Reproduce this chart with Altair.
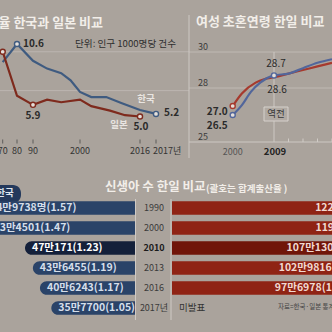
import altair as alt
import pandas as pd

FONT = "Noto Sans CJK KR"
BG = "#aaa39c"
LIGHT = "#f2eee9"
DARK = "#2b2b2b"

# ---------------- Panel A: 혼인율 (per 1000) ----------------
kr_mar_years = [1970, 1980, 1990, 1993, 1996, 1998, 2000, 2003, 2007, 2011, 2016, 2017]
kr_mar_rate = [9.2, 10.6, 9.3, 8.7, 8.35, 7.8, 6.9, 6.5, 6.5, 6.05, 5.5, 5.2]
jp_mar_years = [1970, 1980, 1990, 1993, 1996, 2000, 2003, 2008, 2012, 2016]
jp_mar_rate = [10.0, 6.6, 5.9, 6.3, 6.1, 6.3, 5.8, 5.45, 5.1, 5.0]
a_tick_years = [1970, 1980, 1990, 2000, 2016]
a_tick_labels = ["70", "80", "90", "2000", "2016"]
a_grid = [10.0, 7.0]

# ---------------- Panel B: 여성 초혼연령 ----------------
kr_age_years = [2000, 2002, 2004, 2006, 2009, 2010, 2011, 2012, 2013]
kr_age = [26.5, 27.05, 27.8, 28.3, 28.7, 28.8, 29.1, 29.4, 29.6]
jp_age_years = [2000, 2002, 2005, 2007, 2009, 2010, 2011, 2012, 2013]
jp_age = [27.0, 27.7, 28.3, 28.5, 28.6, 28.8, 29.0, 29.2, 29.4]
b_y_ticks = [30, 28, 25]
b_minor_ticks = [2010, 2011, 2012, 2013]

# ---------------- Panel C: 신생아 수 ----------------
c_years = ["1990", "2000", "2010", "2013", "2016", "2017"]
kr_births = [649738, 634501, 470171, 436455, 406243, 357700]
kr_tfr = ["1.57", "1.47", "1.23", "1.19", "1.17", "1.05"]
jp_years = ["1990", "2000", "2010", "2013", "2016"]
jp_births = [1221585, 1190547, 1071304, 1029816, 976978]
jp_tfr = ["1.54", "1.36", "1.39", "1.43", "1.44"]


def man(n, suffix=""):
    return f"{n // 10000}만{n % 10000}{suffix}"


dfA_kr = pd.DataFrame({"year": kr_mar_years, "rate": kr_mar_rate})
dfA_jp = pd.DataFrame({"year": jp_mar_years, "rate": jp_mar_rate})
dfB_kr = pd.DataFrame({"year": kr_age_years, "age": kr_age})
dfB_jp = pd.DataFrame({"year": jp_age_years, "age": jp_age})
dfC_kr = pd.DataFrame({
    "year": c_years, "births": kr_births,
    "label": [man(b, "명" if i == 0 else "") + f"({t})" for i, (b, t) in enumerate(zip(kr_births, kr_tfr))],
})
dfC_jp = pd.DataFrame({
    "year": jp_years, "births": jp_births,
    "label": [man(b) + f"({t})" for b, t in zip(jp_births, jp_tfr)],
})

# scales (pixel ranges place each panel inside the single 332x332 canvas)
xa = alt.Scale(type="linear", domain=[1970, 1980, 1990, 2000, 2016, 2017],
               range=[2.7, 17, 33, 80, 140, 156], nice=False, zero=False)
ya = alt.Scale(type="linear", domain=[5.0, 10.6], range=[116.5, 44], nice=False, zero=False)
xb = alt.Scale(type="linear", domain=[2000, 2009, 2013], range=[232.7, 274, 332], nice=False, zero=False)
yb = alt.Scale(type="linear", domain=[25, 30], range=[142, 52], nice=False, zero=False)
yc = alt.Scale(type="band", domain=c_years, range=[198, 318], paddingInner=0.32, paddingOuter=0.16)
xc_kr = alt.Scale(type="linear", domain=[0, 700000], range=[135, 135 - 163.8], nice=False, zero=False)
xc_jp = alt.Scale(type="linear", domain=[0, 1300000], range=[172, 172 + 1300 * 0.19], nice=False, zero=False)

ONE = alt.Data(values=[{"a": 1}])


def txt(text, x, y, size, color, weight="normal", align="left"):
    return alt.Chart(ONE).mark_text(
        text=text, font=FONT, fontSize=size, color=color, fontWeight=weight,
        align=align, baseline="middle",
    ).encode(x=alt.value(x), y=alt.value(y))


layers = []

# ---- gridlines / frame lines
layers.append(alt.Chart(pd.DataFrame({"v": a_grid})).mark_rule(color="#bcb6b0", strokeWidth=1).encode(
    y=alt.Y("v:Q", scale=ya, axis=None), x=alt.value(0), x2=alt.value(189)))
layers.append(alt.Chart(pd.DataFrame({"v": [28, 30]})).mark_rule(color="#bfb9b3", strokeWidth=1).encode(
    y=alt.Y("v:Q", scale=yb, axis=None), x=alt.value(189), x2=alt.value(332)))
layers.append(alt.Chart(ONE).mark_rule(color="#cdc8c3", strokeWidth=1).encode(
    x=alt.value(189), y=alt.value(15), y2=alt.value(158)))
layers.append(alt.Chart(pd.DataFrame({"v": [25]})).mark_rule(color="#cdc8c3", strokeWidth=1).encode(
    y=alt.Y("v:Q", scale=yb, axis=None), x=alt.value(189), x2=alt.value(332)))
layers.append(alt.Chart(pd.DataFrame({"y": [2009], "lo": [25], "hi": [30]})).mark_rule(color="#cdc8c3", strokeWidth=1).encode(
    x=alt.X("y:Q", scale=xb, axis=None), y=alt.Y("lo:Q", scale=yb, axis=None), y2="hi:Q"))

# ---- Panel A axis ticks & labels
layers.append(alt.Chart(pd.DataFrame({"y": a_tick_years + [2017]})).mark_rule(color="#4a4a4a", strokeWidth=0.8).encode(
    x=alt.X("y:Q", scale=xa, axis=None), y=alt.value(139.5), y2=alt.value(143.5)))
layers.append(alt.Chart(pd.DataFrame({"y": a_tick_years, "t": a_tick_labels})).mark_text(
    font=FONT, fontSize=9, color="#333333", baseline="middle").encode(
    x=alt.X("y:Q", scale=xa, axis=None), y=alt.value(151), text="t:N"))
layers.append(alt.Chart(pd.DataFrame({"y": [2017], "t": ["2017년"]})).mark_text(
    font=FONT, fontSize=9, color="#333333", baseline="middle", align="left", dx=-3).encode(
    x=alt.X("y:Q", scale=xa, axis=None), y=alt.value(151), text="t:N"))

# ---- Panel A lines
KR_A, JP_A = "#3f5b80", "#7e2a1d"
layers.append(alt.Chart(dfA_kr).mark_line(color=KR_A, strokeWidth=2.2).encode(
    x=alt.X("year:Q", scale=xa, axis=None), y=alt.Y("rate:Q", scale=ya, axis=None)))
layers.append(alt.Chart(dfA_jp).mark_line(color=JP_A, strokeWidth=2.2).encode(
    x=alt.X("year:Q", scale=xa, axis=None), y=alt.Y("rate:Q", scale=ya, axis=None)))
mkA_kr = dfA_kr[dfA_kr.year.isin([1980, 2017])]
mkA_jp = dfA_jp[dfA_jp.year.isin([1970, 1990, 2016])]
layers.append(alt.Chart(mkA_kr).mark_point(shape="circle", size=26, filled=False, fill="#e4dfda", fillOpacity=1,
                                           stroke=KR_A, strokeWidth=1.4).encode(
    x=alt.X("year:Q", scale=xa, axis=None), y=alt.Y("rate:Q", scale=ya, axis=None)))
layers.append(alt.Chart(mkA_jp).mark_point(shape="circle", size=26, filled=False, fill="#e4dfda", fillOpacity=1,
                                           stroke=JP_A, strokeWidth=1.4).encode(
    x=alt.X("year:Q", scale=xa, axis=None), y=alt.Y("rate:Q", scale=ya, axis=None)))


def ptlabel(df, year, field, xs, ys, text, dx, dy, size, color, weight="bold", align="center"):
    d = df[df.year == year].assign(t=text)
    return alt.Chart(d).mark_text(font=FONT, fontSize=size, color=color, fontWeight=weight,
                                  align=align, baseline="middle", dx=dx, dy=dy).encode(
        x=alt.X("year:Q", scale=xs, axis=None), y=alt.Y(f"{field}:Q", scale=ys, axis=None), text="t:N")


layers.append(ptlabel(dfA_kr, 1980, "rate", xa, ya, "10.6", 6, 0, 10, DARK, align="left"))
layers.append(ptlabel(dfA_jp, 1990, "rate", xa, ya, "5.9", 0, 11, 10, DARK))
layers.append(ptlabel(dfA_jp, 2016, "rate", xa, ya, "5.0", 1, 10.5, 10, DARK))
layers.append(ptlabel(dfA_kr, 2017, "rate", xa, ya, "5.2", 8, -1, 10, DARK, align="left"))
layers.append(ptlabel(dfA_kr, 2017, "rate", xa, ya, "한국", -10, -15, 9.5, "#e9e5e1"))
layers.append(ptlabel(dfA_jp, 2016, "rate", xa, ya, "일본", -21, 8.5, 9.5, "#e9e5e1"))

# ---- Panel B lines
KR_B, JP_B = "#52669b", "#a63a2e"
layers.append(alt.Chart(dfB_jp).mark_line(color=JP_B, strokeWidth=2.2, interpolate="monotone").encode(
    x=alt.X("year:Q", scale=xb, axis=None), y=alt.Y("age:Q", scale=yb, axis=None)))
layers.append(alt.Chart(dfB_kr).mark_line(color=KR_B, strokeWidth=2.2, interpolate="monotone").encode(
    x=alt.X("year:Q", scale=xb, axis=None), y=alt.Y("age:Q", scale=yb, axis=None)))
layers.append(alt.Chart(dfB_jp[dfB_jp.year == 2000]).mark_point(shape="circle", size=26, filled=False, fill="#e4dfda",
                                                               fillOpacity=1, stroke=JP_B, strokeWidth=1.4).encode(
    x=alt.X("year:Q", scale=xb, axis=None), y=alt.Y("age:Q", scale=yb, axis=None)))
layers.append(alt.Chart(dfB_kr[dfB_kr.year.isin([2000, 2009])]).mark_point(shape="circle", size=26, filled=False,
                                                                          fill="#e4dfda", fillOpacity=1,
                                                                          stroke=KR_B, strokeWidth=1.4).encode(
    x=alt.X("year:Q", scale=xb, axis=None), y=alt.Y("age:Q", scale=yb, axis=None)))
layers.append(ptlabel(dfB_kr, 2009, "age", xb, yb, "28.7", 2, -11, 10, DARK, weight="normal"))
layers.append(ptlabel(dfB_jp, 2009, "age", xb, yb, "28.6", 3, 13, 10, DARK, weight="normal"))
layers.append(ptlabel(dfB_jp, 2000, "age", xb, yb, "27.0", -5, 5.5, 10, DARK, align="right"))
layers.append(ptlabel(dfB_kr, 2000, "age", xb, yb, "26.5", -5, 10.5, 10, DARK, align="right"))

# Panel B axis labels / ticks
layers.append(alt.Chart(pd.DataFrame({"v": b_y_ticks, "t": [str(v) for v in b_y_ticks]})).mark_text(
    font=FONT, fontSize=9, color="#3a3a3a", baseline="middle", dy=-5).encode(
    y=alt.Y("v:Q", scale=yb, axis=None), x=alt.value(203), text="t:N"))
layers.append(alt.Chart(pd.DataFrame({"y": b_minor_ticks})).mark_rule(color="#d0cbc6", strokeWidth=1).encode(
    x=alt.X("y:Q", scale=xb, axis=None), y=alt.value(138.5), y2=alt.value(142)))
layers.append(alt.Chart(pd.DataFrame({"y": [2000], "t": ["2000"]})).mark_text(
    font=FONT, fontSize=9, color="#555555", baseline="middle").encode(
    x=alt.X("y:Q", scale=xb, axis=None), y=alt.value(152), text="t:N"))
layers.append(alt.Chart(pd.DataFrame({"y": [2009], "t": ["2009"]})).mark_text(
    font=FONT, fontSize=9.5, color="#222222", fontWeight="bold", baseline="middle", dx=1).encode(
    x=alt.X("y:Q", scale=xb, axis=None), y=alt.value(152), text="t:N"))
# 역전 box
layers.append(alt.Chart(ONE).mark_rect(fill="#b1aaa3", stroke="#d6d1cc", strokeWidth=1).encode(
    x=alt.value(264), x2=alt.value(288), y=alt.value(107), y2=alt.value(121)))
layers.append(alt.Chart(ONE).mark_text(text="역전", font=FONT, fontSize=9.5, color="#3a3a3a",
                                       align="center", baseline="middle").encode(x=alt.value(276), y=alt.value(114)))

# ---- Titles
layers.append(txt("혼인율 한국과 일본 비교", 103, 23, 13, LIGHT, "bold", "right"))
layers.append(txt("단위: 인구 1000명당 건수", 75, 44, 9.6, "#2e2e2e"))
layers.append(txt("여성 초혼연령 한일 비교", 196, 22, 13, LIGHT, "bold"))
layers.append(txt("신생아 수 한일 비교", 105, 187, 12.5, LIGHT, "bold"))
layers.append(txt("(괄호는 합계출산율 )", 206, 189, 9.5, LIGHT, "bold"))

# ---- Panel C
layers.append(alt.Chart(ONE).mark_rule(color="#cfcac5", strokeWidth=1).encode(
    x=alt.value(135.5), y=alt.value(199), y2=alt.value(320)))
layers.append(alt.Chart(ONE).mark_rule(color="#cfcac5", strokeWidth=1).encode(
    x=alt.value(171), y=alt.value(199), y2=alt.value(320)))
# 한국 tab
layers.append(alt.Chart(ONE).mark_rect(fill="#24395c", cornerRadius=8).encode(
    x=alt.value(-14), x2=alt.value(21), y=alt.value(185), y2=alt.value(203)))
layers.append(txt("한국", 5, 193, 9.5, "#dfe6ee", "bold", "center"))

KR_BAR, KR_HL = "#2a4368", "#14203a"
JP_BAR, JP_HL = "#8f2314", "#701509"
layers.append(alt.Chart(dfC_kr).mark_bar(cornerRadiusTopLeft=7, cornerRadiusBottomLeft=7).encode(
    x=alt.X("births:Q", scale=xc_kr, axis=None, stack=None),
    y=alt.Y("year:N", scale=yc, axis=None),
    color=alt.condition(alt.datum.year == "2010", alt.value(KR_HL), alt.value(KR_BAR))))
layers.append(alt.Chart(dfC_kr).mark_text(font=FONT, fontSize=10.5, fontWeight="bold", align="left",
                                          baseline="middle", dx=7).encode(
    x=alt.X("births:Q", scale=xc_kr, axis=None),
    y=alt.Y("year:N", scale=yc, axis=None), text="label:N",
    color=alt.condition(alt.datum.year == "2010", alt.value("#ffffff"), alt.value("#d5deea"))))
layers.append(alt.Chart(dfC_jp).mark_bar().encode(
    x=alt.X("births:Q", scale=xc_jp, axis=None, stack=None),
    y=alt.Y("year:N", scale=yc, axis=None),
    color=alt.condition(alt.datum.year == "2010", alt.value(JP_HL), alt.value(JP_BAR))))
layers.append(alt.Chart(dfC_jp).mark_text(font=FONT, fontSize=10.5, fontWeight="bold", align="right",
                                          baseline="middle", dx=-6, color="#f1d9d2").encode(
    x=alt.X("births:Q", scale=xc_jp, axis=None),
    y=alt.Y("year:N", scale=yc, axis=None), text="label:N"))

yl = pd.DataFrame({"year": c_years, "t": c_years[:-1] + ["2017년"]})
layers.append(alt.Chart(yl).transform_filter(alt.datum.year != "2010").mark_text(
    font=FONT, fontSize=9, color="#3a3a3a", baseline="middle").encode(
    x=alt.value(154), y=alt.Y("year:N", scale=yc, axis=None), text="t:N"))
layers.append(alt.Chart(yl).transform_filter(alt.datum.year == "2010").mark_text(
    font=FONT, fontSize=9, color="#1a1a1a", fontWeight="bold", baseline="middle").encode(
    x=alt.value(154), y=alt.Y("year:N", scale=yc, axis=None), text="t:N"))
layers.append(alt.Chart(pd.DataFrame({"year": ["2017"], "t": ["미발표"]})).mark_text(
    font=FONT, fontSize=9.5, color="#333333", baseline="middle", align="left").encode(
    x=alt.value(179), y=alt.Y("year:N", scale=yc, axis=None), text="t:N"))
layers.append(txt("자료=한국·일본 통계청", 278, 307, 6.5, "#444444"))

chart = alt.layer(*layers).resolve_scale(x="independent", y="independent").properties(
    width=332, height=332, background=BG, padding=0,
    autosize=alt.AutoSizeParams(type="none"),
).configure_view(stroke=None)

chart.save("out.html", embed_options={"renderer": "svg", "actions": False})
